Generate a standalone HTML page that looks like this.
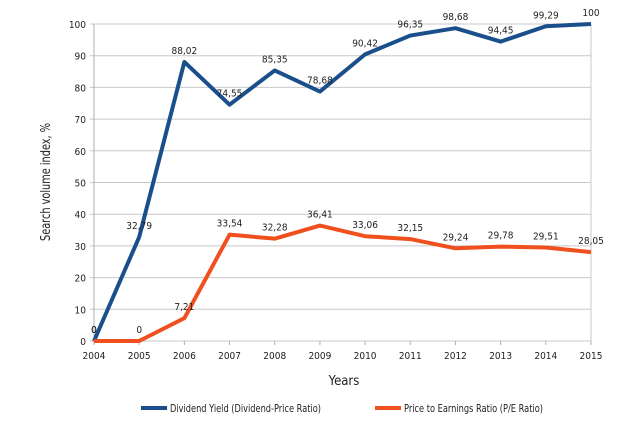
<!DOCTYPE html>
<html><head><meta charset="utf-8"><style>
body{margin:0;background:#fff;font-family:"DejaVu Sans Condensed","Liberation Sans Narrow","Liberation Sans",sans-serif;}
svg text{font-family:"DejaVu Sans Condensed","Liberation Sans Narrow","Liberation Sans",sans-serif;fill:#222;}
</style></head><body>
<svg id="chart" width="640" height="437" xmlns="http://www.w3.org/2000/svg">
<g id="grid"></g>
<g id="series"></g>
<text x="50" y="182" font-size="13" text-anchor="middle" transform="rotate(-90 50 182)" textLength="118" lengthAdjust="spacingAndGlyphs">Search volume index, %</text>
<text x="344" y="385" font-size="13" text-anchor="middle">Years</text>
<g>
<line x1="141" y1="408" x2="167" y2="408" stroke="#1a4f8b" stroke-width="4"/>
<text x="170" y="412" font-size="11" textLength="151" lengthAdjust="spacingAndGlyphs">Dividend Yield (Dividend-Price Ratio)</text></g>
<g>
<line x1="375" y1="408" x2="401" y2="408" stroke="#f0501e" stroke-width="4"/>
<text x="404" y="412" font-size="11" textLength="139" lengthAdjust="spacingAndGlyphs">Price to Earnings Ratio (P/E Ratio)</text></g>
</svg>
<script>
const years=[2004,2005,2006,2007,2008,2009,2010,2011,2012,2013,2014,2015];
const dividend=[0,32.79,88.02,74.55,85.35,78.68,90.42,96.35,98.68,94.45,99.29,100];
const pe=[0,0,7.21,33.54,32.28,36.41,33.06,32.15,29.24,29.78,29.51,28.05];
const yTicks=[0,10,20,30,40,50,60,70,80,90,100];
const NS="http://www.w3.org/2000/svg";
const X0=94,X1=591,Y0=341,Y1=24;
const xs=i=>X0+(X1-X0)*i/(years.length-1);
const ys=v=>Y0-(Y0-Y1)*v/100;
const grid=document.getElementById('grid'),ser=document.getElementById('series');
function mk(t,a,p){const e=document.createElementNS(NS,t);for(const k in a)e.setAttribute(k,a[k]);p.appendChild(e);return e;}
yTicks.forEach(v=>{
 const l=mk('line',{x1:X0-4,x2:X1,y1:ys(v),y2:ys(v),stroke:'#c8c8c8','stroke-width':1},grid);
 
 
 const t=mk('text',{x:X0-8,y:ys(v)+4,'font-size':10,'text-anchor':'end'},grid);
 
 
 t.textContent=v;
});
mk('line',{x1:X0,x2:X0,y1:Y1,y2:Y0,stroke:'#b0b0b0'},grid);
mk('line',{x1:X1,x2:X1,y1:Y1,y2:Y0+4,stroke:'#c8c8c8'},grid);
years.forEach((y,i)=>{
 mk('line',{x1:xs(i),x2:xs(i),y1:Y0,y2:Y0+4,stroke:'#b0b0b0'},grid);
 const t=mk('text',{x:xs(i),y:Y0+18,'font-size':10,'text-anchor':'middle'},grid);
 
 
 t.textContent=y;
});
function draw(vals,color,name){
 const p=mk('polyline',{points:vals.map((v,i)=>xs(i)+','+ys(v)).join(' '),fill:'none',stroke:color,'stroke-width':4,'stroke-linejoin':'round'},ser);
 
 
 vals.forEach((v,i)=>{
  const t=mk('text',{x:xs(i),y:ys(v)-8,'font-size':10,'text-anchor':'middle'},ser);
  
  
  t.textContent=String(v).replace('.',',');
 });
}
draw(dividend,'#1a4f8b','dividend-line');
draw(pe,'#f0501e','pe-line');
</script>
</body></html>
